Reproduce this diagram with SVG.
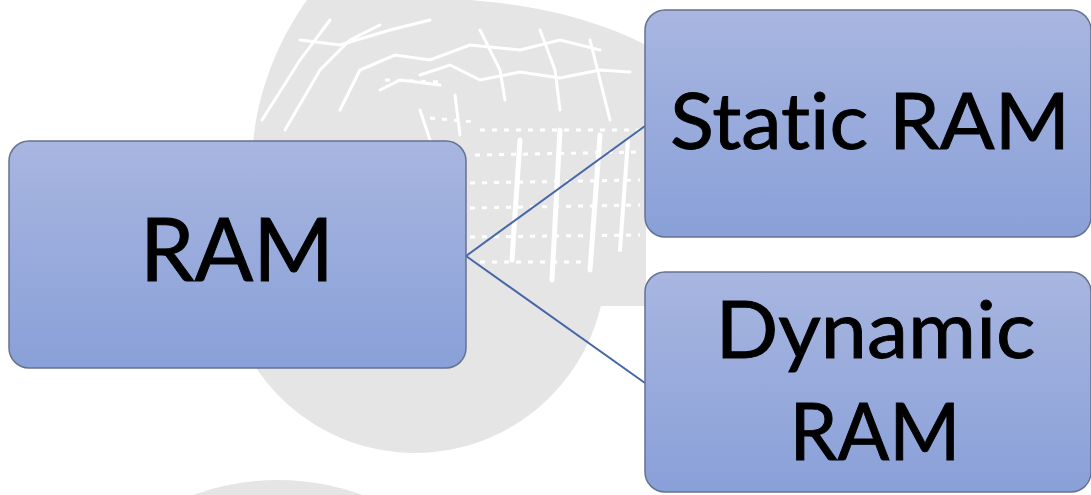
<svg xmlns="http://www.w3.org/2000/svg" width="1091" height="495" viewBox="0 0 1091 495">
  <defs>
    <linearGradient id="boxGrad" x1="0" y1="0" x2="0" y2="1">
      <stop offset="0" stop-color="#a8b6e0"/>
      <stop offset="1" stop-color="#89a0d8"/>
    </linearGradient>
    <style>
      .bg { fill: #e5e5e5; }
      .tex { fill: none; stroke: #ffffff; stroke-width: 3; stroke-linecap: round; }
      .dots { fill: none; stroke: #ffffff; stroke-width: 3; stroke-dasharray: 5 7; }
      .box { fill: url(#boxGrad); stroke: #66728f; stroke-width: 1.5; }
      .conn { fill: none; stroke: #4666a8; stroke-width: 2; }
      .label { font-family: Lato, "Liberation Sans", sans-serif; fill: #000000; stroke: #000000; stroke-width: 0.9; text-anchor: middle; font-variant-ligatures: none; font-feature-settings: "liga" 0, "clig" 0; }
    </style>
  </defs>
  <rect width="1091" height="495" fill="#ffffff"/>

  <g id="background">
    <circle class="bg" cx="415" cy="262" r="191"/>
    <circle class="bg" cx="278" cy="728" r="248"/>
    <path class="bg" d="M252,160 C254,100 275,45 307,0 L470,0 C545,6 600,22 646,45 L646,306 L596,306 L560,200 Z"/>
    <g id="texture">
      <path class="tex" d="M262,120 L300,60 L330,20"/>
      <path class="tex" d="M285,130 L320,70 L350,40 L380,25"/>
      <path class="tex" d="M300,40 L340,45 L390,30 L430,20"/>
      <path class="tex" d="M340,110 L360,70 L395,55 L430,60 L470,45 L520,50 L560,40 L600,50"/>
      <path class="tex" d="M420,75 L450,65 L480,80 L520,72 L560,78 L600,70 L630,72"/>
      <path class="tex" d="M480,30 L500,70 L505,100"/>
      <path class="tex" d="M540,30 L555,70 L560,110"/>
      <path class="tex" d="M590,40 L600,80 L610,120"/>
      <path class="tex" d="M380,90 L400,80 L440,85"/>
      <path class="tex" d="M420,110 L430,140"/>
      <path class="tex" d="M455,95 L460,135"/>
      <path class="dots" d="M385,80 L440,82"/>
      <path class="dots" d="M430,118 L475,122"/>
      <path class="dots" d="M480,130 L640,130"/>
      <path class="dots" d="M475,155 L640,152"/>
      <path class="dots" d="M470,183 L640,180"/>
      <path class="dots" d="M470,208 L640,205"/>
      <path class="dots" d="M470,237 L640,235"/>
      <path class="dots" d="M480,262 L600,262"/>
      <path class="tex" style="stroke-width:5" d="M520,140 L512,260"/>
      <path class="tex" style="stroke-width:5" d="M560,130 L552,280"/>
      <path class="tex" style="stroke-width:5" d="M600,135 L590,270"/>
      <path class="tex" style="stroke-width:4" d="M628,140 L620,250"/>
    </g>
  </g>

  <g id="connectors">
    <path class="conn" d="M466,256 L645,126"/>
    <path class="conn" d="M466,256 L645,383"/>
  </g>

  <g id="node-ram">
    <rect class="box" x="9" y="141" width="457" height="227" rx="20" ry="20"/>
    <text class="label" x="237" y="281" font-size="88" textLength="194" lengthAdjust="spacingAndGlyphs">RAM</text>
  </g>

  <g id="node-static">
    <rect class="box" x="645" y="10" width="446" height="227" rx="20" ry="20"/>
    <text class="label" x="870" y="149" font-size="78" textLength="400" lengthAdjust="spacingAndGlyphs">Static RAM</text>
  </g>

  <g id="node-dynamic">
    <rect class="box" x="645" y="272" width="446" height="220" rx="20" ry="20"/>
    <text class="label" x="875.5" y="358" font-size="79" textLength="320" lengthAdjust="spacingAndGlyphs">Dynamic</text>
    <text class="label" x="875" y="460" font-size="79" textLength="171" lengthAdjust="spacingAndGlyphs">RAM</text>
  </g>
</svg>
